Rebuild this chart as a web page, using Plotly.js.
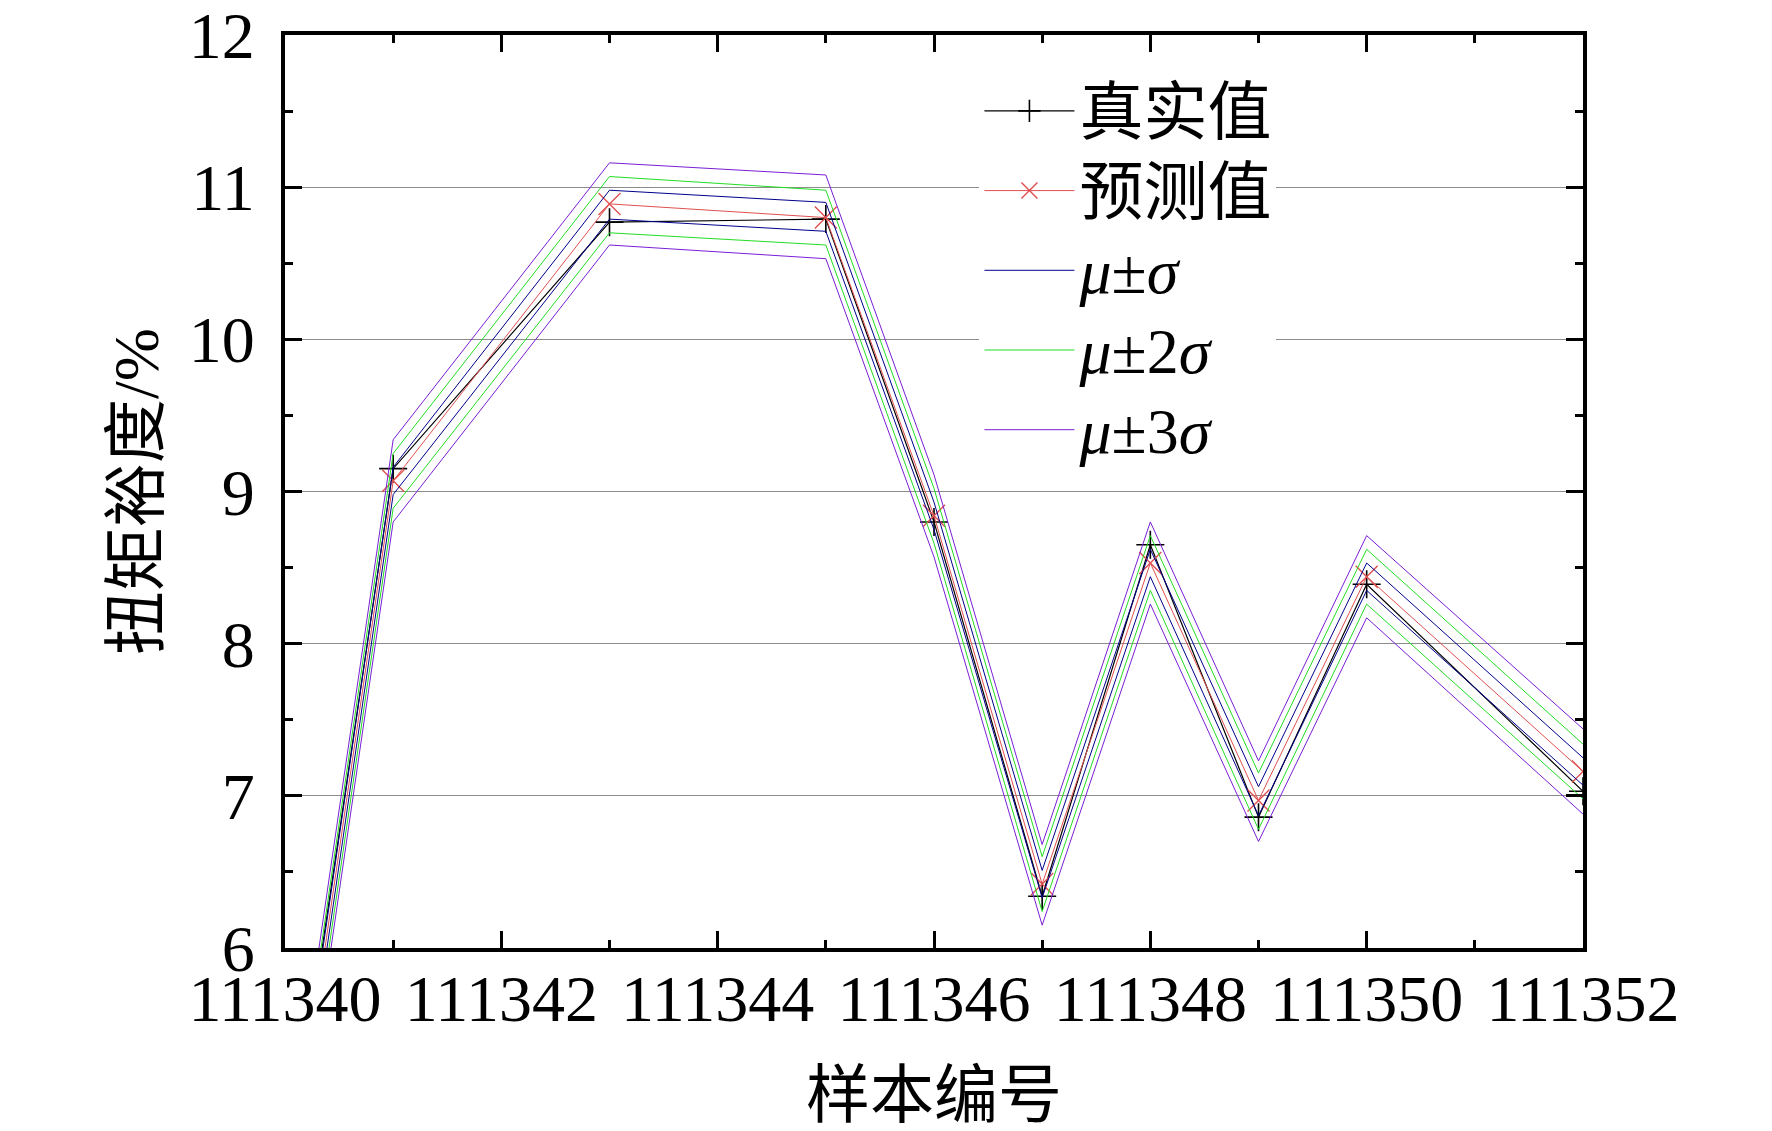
<!DOCTYPE html>
<html>
<head>
<meta charset="utf-8">
<script src="https://cdn.plot.ly/plotly-3.0.1.min.js"></script>
<style>
  html, body { margin: 0; padding: 0; background: #fff; }
  #chart { width: 1772px; height: 1131px; }
</style>
</head>
<body>
<div id="chart"></div>
<script>
// sample numbers on the x axis
const sampleIds = [111340, 111341, 111343, 111345, 111346, 111347, 111348, 111349, 111350, 111352];

// torque margin (%)
const trueValues = [4.35, 9.15, 10.77, 10.79, 8.80, 6.34, 8.65, 6.86, 8.39, 7.03];
const predValues = [4.20, 9.07, 10.89, 10.80, 8.84, 6.42, 8.53, 6.97, 8.44, 7.16];

const sigma1Upper = [4.29, 9.16, 10.98, 10.90, 8.93, 6.51, 8.62, 7.06, 8.53, 7.25];
const sigma1Lower = [4.11, 8.98, 10.79, 10.71, 8.75, 6.33, 8.44, 6.87, 8.35, 7.07];
const sigma2Upper = [4.38, 9.25, 11.07, 10.98, 9.02, 6.60, 8.71, 7.15, 8.62, 7.34];
const sigma2Lower = [4.02, 8.89, 10.70, 10.62, 8.66, 6.24, 8.35, 6.78, 8.26, 6.98];
const sigma3Upper = [4.47, 9.34, 11.16, 11.08, 9.11, 6.68, 8.80, 7.23, 8.71, 7.44];
const sigma3Lower = [3.93, 8.80, 10.62, 10.53, 8.57, 6.15, 8.26, 6.70, 8.17, 6.88];

const xTickVals = [111340, 111342, 111344, 111346, 111348, 111350, 111352];
const yTickVals = [6, 7, 8, 9, 10, 11, 12];

const FONT = "Liberation Serif, 'Times New Roman', 'Noto Sans CJK SC', serif";

// legend rows are spaced by the legend font size, the text itself is drawn a bit larger
function legendName(s) {
    return '<span style="font-size:64px">' + s + '</span>';
}

function band(y, name, color, show) {
    return {
        x: sampleIds, y: y, name: legendName(name), type: "scatter", mode: "lines",
        line: { color: color, width: 1 },
        legendgroup: name, showlegend: show
    };
}

const traces = [
    {
        x: sampleIds, y: trueValues, name: legendName("真实值"), type: "scatter", mode: "lines+markers",
        line: { color: "#000000", width: 1.2 },
        marker: { symbol: "cross-thin", size: 20, line: { color: "#000000", width: 1.6 } }
    },
    {
        x: sampleIds, y: predValues, name: legendName("预测值"), type: "scatter", mode: "lines+markers",
        line: { color: "#e05050", width: 1 },
        marker: { symbol: "x-thin", size: 22, line: { color: "#e05050", width: 1.4 } }
    },
    band(sigma1Upper, "<i>μ</i>±<i>σ</i>", "#00008c", true),
    band(sigma1Lower, "<i>μ</i>±<i>σ</i>", "#00008c", false),
    band(sigma2Upper, "<i>μ</i>±2<i>σ</i>", "#22dd22", true),
    band(sigma2Lower, "<i>μ</i>±2<i>σ</i>", "#22dd22", false),
    band(sigma3Upper, "<i>μ</i>±3<i>σ</i>", "#7a1ed6", true),
    band(sigma3Lower, "<i>μ</i>±3<i>σ</i>", "#7a1ed6", false)
];

const layout = {
    width: 1772,
    height: 1131,
    paper_bgcolor: "#ffffff",
    plot_bgcolor: "#ffffff",
    font: { family: FONT, size: 64, color: "#000000" },
    margin: { l: 285, r: 189, t: 35, b: 183, pad: 0 },
    showlegend: true,
    legend: {
        x: 0.535, y: 0.966, xanchor: "left", yanchor: "top",
        bgcolor: "#ffffff", borderwidth: 0,
        font: { family: FONT, size: 59 },
        itemwidth: 90, tracegroupgap: 0
    },
    xaxis: {
        range: [111340, 111352],
        tickmode: "array", tickvals: xTickVals, ticktext: xTickVals.map(String),
        ticks: "inside", ticklen: 17, tickwidth: 3, tickcolor: "#000",
        minor: { dtick: 1, ticks: "inside", ticklen: 8, tickwidth: 3, tickcolor: "#000" },
        showline: true, linewidth: 4, linecolor: "#000", mirror: "allticks",
        showgrid: false, zeroline: false,
        tickfont: { family: FONT, size: 66 },
        ticklabelstandoff: -10,
        ticklabeloverflow: "allow",
        title: { text: "样本编号", font: { family: FONT, size: 64 }, standoff: 40 }
    },
    yaxis: {
        range: [6, 12],
        tickmode: "array", tickvals: yTickVals, ticktext: yTickVals.map(String),
        ticks: "inside", ticklen: 17, tickwidth: 3, tickcolor: "#000",
        minor: { dtick: 0.5, ticks: "inside", ticklen: 8, tickwidth: 3, tickcolor: "#000", showgrid: false },
        showline: true, linewidth: 4, linecolor: "#000", mirror: "allticks",
        showgrid: true, gridcolor: "#8c8c8c", gridwidth: 1.2, zeroline: false,
        tickfont: { family: FONT, size: 66 },
        ticklabelstandoff: 13,
        ticklabeloverflow: "allow",
        title: { text: "扭矩裕度/%", font: { family: FONT, size: 64 }, standoff: 10 }
    }
};

Plotly.newPlot("chart", traces, layout, { displayModeBar: false, staticPlot: true });
</script>
</body>
</html>
